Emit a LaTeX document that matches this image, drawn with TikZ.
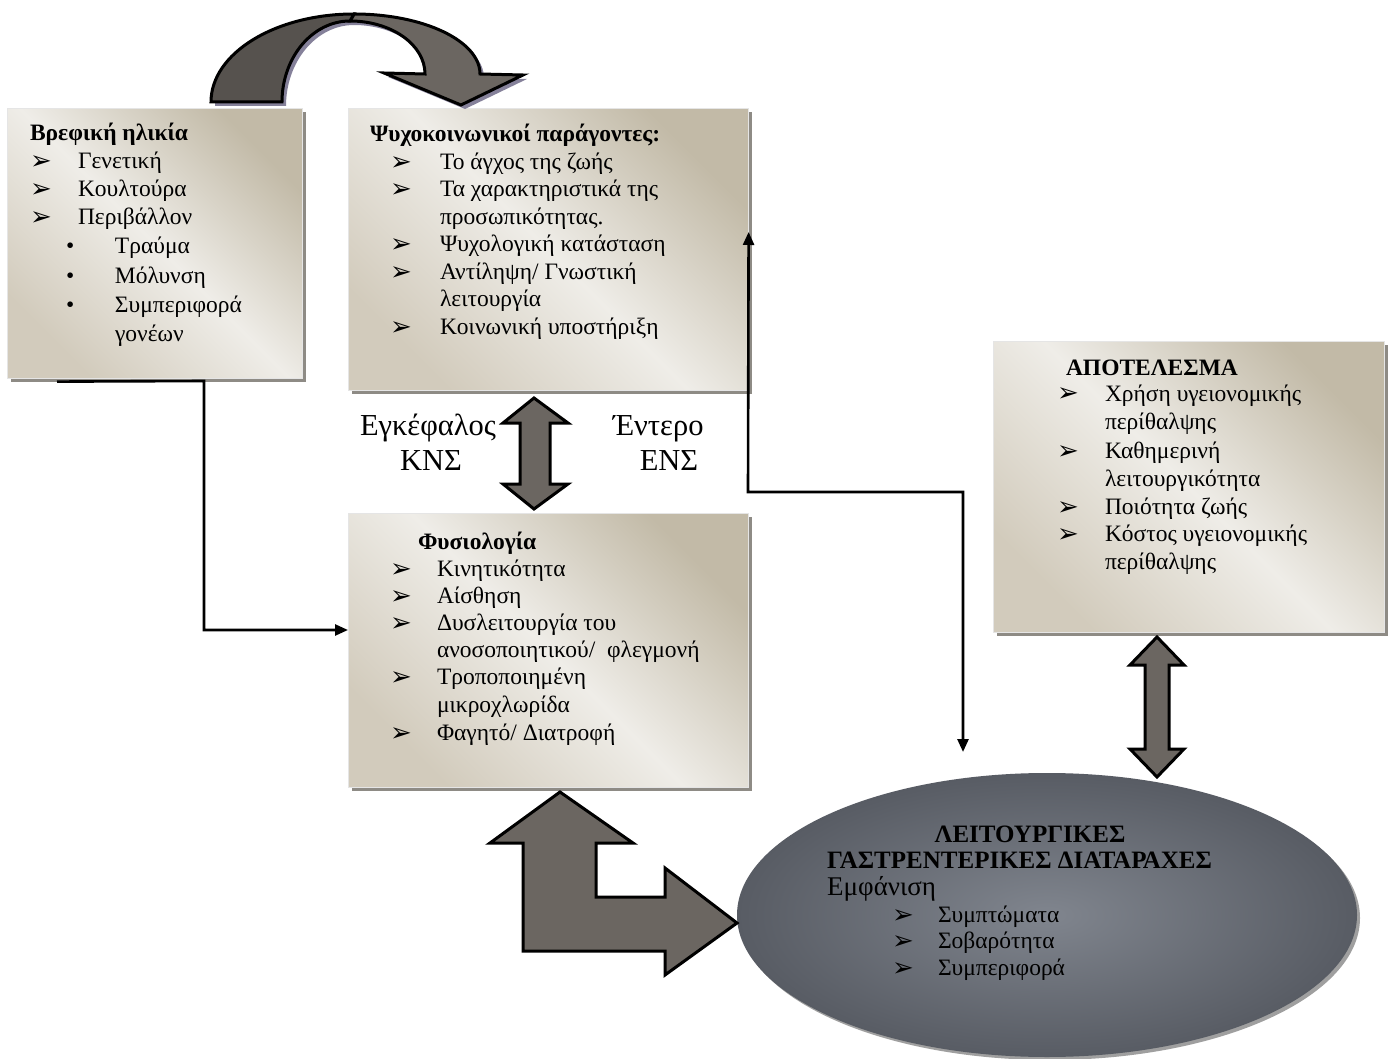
\documentclass[tikz,border=0pt]{standalone}
\usepackage{fontspec}
\setmainfont{Liberation Serif}
\newfontfamily\dvs{DejaVu Sans}
\usetikzlibrary{shapes.geometric,shadows,arrows.meta,calc}
\definecolor{tanD}{HTML}{C2BAA7}
\definecolor{tanL}{HTML}{EFEDE8}
\definecolor{tanM}{HTML}{D2CBBC}
\definecolor{shad}{HTML}{8E8B85}
\definecolor{arrF}{HTML}{6B6661}
\definecolor{arrD}{HTML}{56524E}
\definecolor{cshad}{HTML}{85819A}
\definecolor{ellC}{HTML}{80858E}
\definecolor{ellE}{HTML}{585C64}
\newcommand\fs{\fontsize{23.5}{27}\selectfont}
\newcommand\fb{\fontsize{30.5}{34}\selectfont}
\newcommand\fe{\fontsize{25}{29}\selectfont}
\newcommand\fem{\fontsize{27}{31}\selectfont}
\newcommand\arrb{\raisebox{-1pt}{\dvs\fontsize{26}{26}\selectfont ➢}}
\newcommand\bl[1]{\makebox[#1pt][l]{\arrb}}
\newcommand\dt[1]{\makebox[#1pt][l]{•}}
\begin{document}
\begin{tikzpicture}[x=1pt,y=-1pt,
  box/.style={draw=white!80!gray, line width=0.6pt, top color=tanD, bottom color=tanM,
    middle color=tanL, shading angle=-45, anchor=north west, inner sep=0pt,
    drop shadow={shadow xshift=4pt, shadow yshift=-4pt, fill=shad, opacity=1}},
  tx/.style={anchor=base west, inner sep=0pt, outer sep=0pt, font=\fs},
  lab/.style={anchor=base west, inner sep=0pt, outer sep=0pt, font=\fb},
  blk/.style={fill=arrF, draw=black, line width=3pt, line join=miter},
  conn/.style={draw=black, line width=2.6pt},
  tip/.style={-{Triangle[length=13pt,width=11pt]}}
]
\fill[white] (0,0) rectangle (1390,1059);
\useasboundingbox (0,0) rectangle (1390,1059);

% boxes
\node[box, minimum width=295pt, minimum height=270pt] (b1) at (7,108) {};
\node[box, minimum width=400pt, minimum height=282pt] (b2) at (348,108) {};
\node[box, minimum width=400pt, minimum height=274pt] (b3) at (348,513) {};
\node[box, minimum width=391pt, minimum height=291pt] (b4) at (993,341) {};

% ellipse
\node[ellipse, minimum width=620pt, minimum height=284pt, inner sep=0pt,
  shading=radial, inner color=ellC, outer color=ellE,
  drop shadow={shadow xshift=3pt, shadow yshift=-3pt, fill=black!75, opacity=0.5}] (ell) at (1047,915) {};

% curved arrow (shadow, then bands)
\begin{scope}[shift={(4,4)}]
\fill[cshad] (211,102) .. controls (211,53.4) and (275.1,14) .. (354,14)
  .. controls (423.6,14) and (480,40.9) .. (480,74) -- (523,75) -- (461,105) -- (384,73) -- (425,74)
  .. controls (425,44.7) and (391.4,21) .. (350,21)
  .. controls (312.5,21) and (282,57.3) .. (282,102) -- cycle;
\end{scope}
\draw[blk] (354,14) .. controls (423.6,14) and (480,40.9) .. (480,74) -- (523,75) -- (461,105)
  -- (384,73) -- (425,74) .. controls (425,44.7) and (391.4,21) .. (350,21) -- cycle;
\draw[blk, fill=arrD] (211,102) .. controls (211,53.4) and (275.1,14) .. (354,14) -- (350,21)
  .. controls (312.5,21) and (282,57.3) .. (282,102) -- cycle;

% box 1 text
\node[tx] (t1a) at (30,141) {\textbf{Βρεφική ηλικία}};
\node[tx] (t1b) at (30,169) {\bl{48}Γενετική};
\node[tx] (t1c) at (30,197) {\bl{48}Κουλτούρα};
\node[tx] (t1d) at (30,225) {\bl{48}Περιβάλλον};
\node[tx] (t1e) at (66,254) {\dt{49}Τραύμα};
\node[tx] (t1f) at (66,284) {\dt{49}Μόλυνση};
\node[tx] (t1g) at (66,313) {\dt{49}Συμπεριφορά};
\node[tx] (t1h) at (115,342) {γονέων};

% box 2 text
\node[tx] (t2a) at (370,142) {\textbf{Ψυχοκοινωνικοί παράγοντες:}};
\node[tx] (t2b) at (390,170) {\bl{50}Το άγχος της ζωής};
\node[tx] (t2c) at (390,197) {\bl{50}Τα χαρακτηριστικά της};
\node[tx] (t2d) at (440,225) {προσωπικότητας.};
\node[tx] (t2e) at (390,252) {\bl{50}Ψυχολογική κατάσταση};
\node[tx] (t2f) at (390,280) {\bl{50}Αντίληψη/ Γνωστική};
\node[tx] (t2g) at (440,307) {λειτουργία};
\node[tx] (t2h) at (390,335) {\bl{50}Κοινωνική υποστήριξη};

% box 3 text
\node[tx] (t3a) at (418,549) {\textbf{Φυσιολογία}};
\node[tx] (t3b) at (390,576) {\bl{47}Κινητικότητα};
\node[tx] (t3c) at (390,603) {\bl{47}Αίσθηση};
\node[tx] (t3d) at (390,630) {\bl{47}Δυσλειτουργία του};
\node[tx] (t3e) at (437,657) {ανοσοποιητικού/\ \ φλεγμονή};
\node[tx] (t3f) at (390,684) {\bl{47}Τροποποιημένη};
\node[tx] (t3g) at (437,712) {μικροχλωρίδα};
\node[tx] (t3h) at (390,740) {\bl{47}Φαγητό/ Διατροφή};

% box 4 text
\node[tx] (t4a) at (1066,375) {\textbf{ΑΠΟΤΕΛΕΣΜΑ}};
\node[tx] (t4b) at (1057,401) {\bl{48}Χρήση υγειονομικής};
\node[tx] (t4c) at (1105,429) {περίθαλψης};
\node[tx] (t4d) at (1057,458) {\bl{48}Καθημερινή};
\node[tx] (t4e) at (1105,486) {λειτουργικότητα};
\node[tx] (t4f) at (1057,514) {\bl{48}Ποιότητα ζωής};
\node[tx] (t4g) at (1057,541) {\bl{48}Κόστος υγειονομικής};
\node[tx] (t4h) at (1105,569) {περίθαλψης};

% ellipse text
\node[anchor=base, inner sep=0pt, font=\fe] (t5a) at (1030,842) {\textbf{ΛΕΙΤΟΥΡΓΙΚΕΣ}};
\node[anchor=base west, inner sep=0pt, font=\fe] (t5b) at (827,868) {\textbf{ΓΑΣΤΡΕΝΤΕΡΙΚΕΣ ΔΙΑΤΑΡΑΧΕΣ}};
\node[anchor=base west, inner sep=0pt, font=\fem] (t5c) at (827,895) {Εμφάνιση};
\node[tx] (t5d) at (892,922) {\bl{46}Συμπτώματα};
\node[tx] (t5e) at (892,948) {\bl{46}Σοβαρότητα};
\node[tx] (t5f) at (892,975) {\bl{46}Συμπεριφορά};

% labels
\node[lab] (l1) at (360,435) {Εγκέφαλος};
\node[lab, anchor=base] (l2) at (431,470) {ΚΝΣ};
\node[lab] (l3) at (613,435) {Έντερο};
\node[lab, anchor=base] (l4) at (669,470) {ΕΝΣ};

% connectors
\coordinate (b1out) at ($(b1.south west)+(50,3)$);
\coordinate (k1) at (204,381);
\coordinate (k2) at (204,630);
\draw[conn, tip] (b1out) -- (k1) -- (k2) -- (k2 -| b3.west);

\coordinate (e1) at (963,752);
\coordinate (k3) at (963,492);
\coordinate (k4) at (748,492);
\coordinate (b2in) at ($(b2.north east)+(0,124)$);
\draw[conn, {Triangle[length=13pt,width=11pt]}-{Triangle[length=13pt,width=11pt]}] (e1) -- (k3) -- (k4) -- (b2in);

% block arrows
\draw[blk] (534,398) -- (568,423) -- (550,423) -- (550,484) -- (568,484) -- (534,509)
  -- (503,484) -- (520,484) -- (520,423) -- (503,423) -- cycle;
\draw[blk] (1157,637) -- (1184,665) -- (1169,665) -- (1169,749) -- (1184,749) -- (1157,777)
  -- (1130,749) -- (1145,749) -- (1145,665) -- (1130,665) -- cycle;
\draw[blk] (560,792) -- (633,843) -- (596,843) -- (596,897) -- (665,897) -- (665,868)
  -- (737,923) -- (665,975) -- (665,951) -- (523,951) -- (523,843) -- (490,843) -- cycle;
\end{tikzpicture}
\end{document}
